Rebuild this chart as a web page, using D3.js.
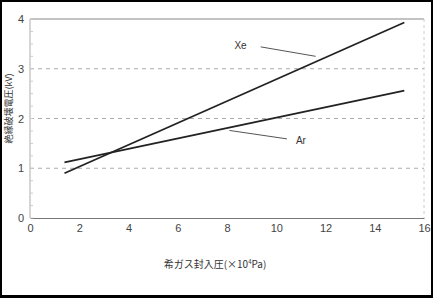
<!DOCTYPE html>
<html>
<head>
<meta charset="utf-8">
<script src="https://cdn.jsdelivr.net/npm/d3@7"></script>
<style>
body { margin: 0; background: #000; }
svg { display: block; }
</style>
</head>
<body>
<div id="chart"></div>
<script>
// values
var seriesNames = ["Xe", "Ar"];
var pressure = [1.4, 15.2];           // x10^4 Pa
var xeVoltage = [0.9, 3.93];          // kV
var arVoltage = [1.12, 2.56];         // kV
var xTicks = [0, 2, 4, 6, 8, 10, 12, 14, 16];
var yTicks = [0, 1, 2, 3, 4];
var xeLabel = {x: 11.6, y: 3.25, tx: 8.8, ty: 3.46};
var arLabel = {x: 8.1, y: 1.76, tx: 10.8, ty: 1.55};

function draw_chart() {
    var W = 433, H = 298;
    var margin = {top: 19, right: 9, bottom: 80, left: 30},
        width = W - margin.left - margin.right,
        height = H - margin.top - margin.bottom;

    var x = d3.scaleLinear().domain([0, 16]).range([0, width]);
    var y = d3.scaleLinear().domain([0, 4]).range([height, 0]);

    var root = d3.select("#chart").append("svg")
        .attr("width", W)
        .attr("height", H);

    // photo frame
    root.append("rect")
        .attr("x", 2).attr("y", 2)
        .attr("width", W - 4).attr("height", H - 5)
        .attr("fill", "#fff");

    var svg = root.append("g")
        .attr("transform", "translate(" + margin.left + "," + margin.top + ")");

    // grid
    svg.selectAll(".grid").data([1, 2, 3]).enter().append("line")
        .attr("x1", 0).attr("x2", width)
        .attr("y1", function(d) { return y(d); })
        .attr("y2", function(d) { return y(d); })
        .attr("stroke", "#aaa")
        .attr("stroke-width", 1)
        .attr("stroke-dasharray", "4,4");

    // frame lines
    svg.append("line").attr("x1", 0).attr("x2", width).attr("y1", 0).attr("y2", 0)
        .attr("stroke", "#888").attr("stroke-width", 1.2);
    svg.append("line").attr("x1", width).attr("x2", width).attr("y1", 0).attr("y2", height)
        .attr("stroke", "#ccc").attr("stroke-width", 1).attr("stroke-dasharray", "3,3");
    svg.append("line").attr("x1", 0).attr("x2", 0).attr("y1", 0).attr("y2", height)
        .attr("stroke", "#bbb").attr("stroke-width", 1.2);

    var xAxis = d3.axisBottom(x).tickValues(xTicks).tickFormat(d3.format("d")).tickSize(0).tickPadding(6);
    var yAxis = d3.axisLeft(y).tickValues(yTicks).tickFormat(d3.format("d")).tickSize(0).tickPadding(6);

    var gx = svg.append("g")
        .attr("transform", "translate(0," + height + ")")
        .call(xAxis);
    gx.select(".domain").attr("stroke", "#777").attr("stroke-width", 1.2);

    var gy = svg.append("g").call(yAxis);
    gy.select(".domain").remove();

    svg.selectAll(".tick text")
        .attr("fill", "#444")
        .style("font-family", "Liberation Sans, Arial, sans-serif")
        .style("font-size", "11px");

    // minor ticks on left axis
    svg.selectAll(".ytick").data(d3.range(0, 4.01, 0.25)).enter().append("line")
        .attr("x1", 0).attr("x2", 3)
        .attr("y1", function(d) { return y(d); })
        .attr("y2", function(d) { return y(d); })
        .attr("stroke", "#ccc");

    var line = d3.line()
        .x(function(d) { return x(d[0]); })
        .y(function(d) { return y(d[1]); });

    [xeVoltage, arVoltage].forEach(function(v) {
        svg.append("path")
            .datum(pressure.map(function(p, i) { return [p, v[i]]; }))
            .attr("d", line)
            .attr("fill", "none")
            .attr("stroke", "#222")
            .attr("stroke-width", 1.8);
    });

    // annotations
    [xeLabel, arLabel].forEach(function(a, i) {
        var tx = x(a.tx), ty = y(a.ty);
        var dx = i == 0 ? 14 : -9;
        svg.append("line")
            .attr("x1", tx + dx).attr("y1", ty + (i == 0 ? 1 : -2))
            .attr("x2", x(a.x)).attr("y2", y(a.y))
            .attr("stroke", "#555").attr("stroke-width", 1);
        svg.append("text")
            .attr("x", tx).attr("y", ty)
            .attr("text-anchor", i == 0 ? "end" : "start")
            .attr("dy", "0.35em")
            .attr("fill", "#333")
            .style("font-family", "Liberation Sans, Arial, sans-serif")
            .style("font-size", "10px")
            .text(seriesNames[i]);
    });

    svg.append("text")
        .attr("x", width / 2 - 12)
        .attr("y", height + 50)
        .attr("text-anchor", "middle")
        .attr("fill", "#333")
        .style("font-family", "Noto Sans CJK JP, sans-serif")
        .style("font-size", "10px")
        .html("希ガス封入圧(×10<tspan baseline-shift='super' font-size='6px'>4</tspan>Pa)");

    svg.append("text")
        .attr("transform", "translate(-18," + (y(2) - 10) + ") rotate(-90)")
        .attr("text-anchor", "middle")
        .attr("fill", "#333")
        .style("font-family", "Noto Sans CJK JP, sans-serif")
        .style("font-size", "9px")
        .text("絶縁破壊電圧(kV)");
}

draw_chart();
</script>
</body>
</html>
